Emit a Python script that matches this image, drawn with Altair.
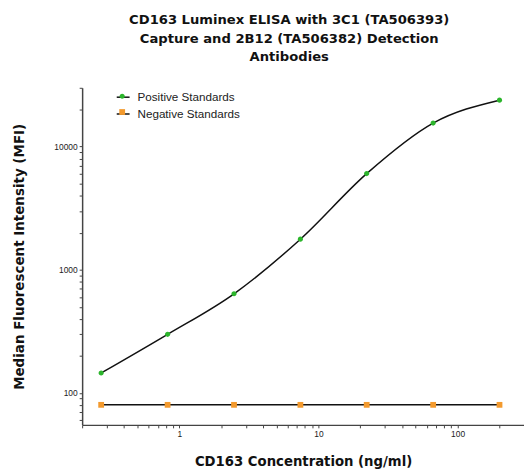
import altair as alt
import pandas as pd

# ---- data ----
conc = [0.274, 0.823, 2.47, 7.41, 22.2, 66.7, 200]
pos_mfi = [145, 299, 638, 1770, 6030, 15500, 23800]
neg_mfi = [80, 80, 80, 80, 80, 80, 80]
series_names = ["Positive Standards", "Negative Standards"]
series_colors = ["#2cb52c", "#f39a2e"]

x_ticks = [0.2, 0.3, 0.4, 0.5, 0.6, 0.7, 0.8, 0.9, 1, 2, 3, 4, 5, 6, 7, 8, 9,
           10, 20, 30, 40, 50, 60, 70, 80, 90, 100, 200, 300]
y_ticks = [60, 70, 80, 90, 100, 200, 300, 400, 500, 600, 700, 800, 900,
           1000, 2000, 3000, 4000, 5000, 6000, 7000, 8000, 9000,
           10000, 20000, 30000]

# line legend uses its own (label-identical) domain so that it stays a separate legend
line_names = [n + " " for n in series_names]

rows = []
for c, v in zip(conc, pos_mfi):
    rows.append({"conc": c, "mfi": v, "series": series_names[0], "series2": line_names[0]})
for c, v in zip(conc, neg_mfi):
    rows.append({"conc": c, "mfi": v, "series": series_names[1], "series2": line_names[1]})
df = pd.DataFrame(rows)

FONT = "Liberation Sans"
BOLD_FONT = "DejaVu Sans"
circle_path = "M-0.4,0A0.4,0.4,0,1,1,0.4,0A0.4,0.4,0,1,1,-0.4,0Z"
square_path = "M-0.45,-0.45H0.45V0.45H-0.45Z"

x_enc = alt.X("conc:Q",
              scale=alt.Scale(type="log", domain=[0.2, 300], nice=False),
              axis=alt.Axis(values=x_ticks, format="d",
                            labelExpr="(datum.value == 1 || datum.value == 10 || datum.value == 100) ? datum.label : ''",
                            labelOverlap=False, title="CD163 Concentration (ng/ml)",
                            titlePadding=17))
y_enc = alt.Y("mfi:Q",
              scale=alt.Scale(type="log", domain=[55, 30000], nice=False),
              axis=alt.Axis(values=y_ticks, format="d",
                            labelExpr="(datum.value == 100 || datum.value == 1000 || datum.value == 10000) ? datum.label : ''",
                            labelOverlap=False, title="Median Fluorescent Intensity (MFI)",
                            titlePadding=28))

LX, LY = 34, 2

lines = alt.Chart(df).mark_line(interpolate="monotone", strokeWidth=1.5).encode(
    x=x_enc, y=y_enc,
    stroke=alt.Stroke("series2:N",
                      scale=alt.Scale(domain=line_names, range=["#111111", "#111111"]),
                      legend=alt.Legend(orient="none", legendX=LX, legendY=LY, title=None,
                                        symbolType="stroke", symbolSize=169,
                                        symbolStrokeWidth=1.5, labelFontSize=11.8,
                                        labelFont=FONT, labelColor="#222222",
                                        labelOffset=7, rowPadding=2, padding=0, zindex=1)),
)

dot_legend = alt.Legend(orient="none", legendX=LX, legendY=LY, title=None,
                        symbolSize=169, symbolStrokeWidth=0, labelFontSize=11.8,
                        labelFont=FONT, labelExpr="''", labelOffset=7,
                        rowPadding=2, padding=0, zindex=2)

points = alt.Chart(df).mark_point(filled=True, size=169, opacity=1, strokeWidth=0).encode(
    x=x_enc, y=y_enc,
    color=alt.Color("series:N", scale=alt.Scale(domain=series_names, range=series_colors),
                    legend=dot_legend),
    shape=alt.Shape("series:N", scale=alt.Scale(domain=series_names, range=[circle_path, square_path]),
                    legend=dot_legend),
)

chart = alt.layer(lines, points).properties(
    width=447, height=341,
    autosize=alt.AutoSizeParams(type="none"),
    padding={"left": 75, "top": 78, "right": 0, "bottom": 50},
    title=alt.TitleParams(
        text=["CD163 Luminex ELISA with 3C1 (TA506393)",
              "Capture and 2B12 (TA506382) Detection",
              "Antibodies"],
        font=BOLD_FONT, fontSize=13.3, fontWeight="bold", color="#111111",
        lineHeight=18.5, anchor="middle", frame="group", dx=-14, offset=21),
).configure_view(stroke=None).configure_axis(
    grid=False, domainColor="#444444", domainWidth=1.5, tickColor="#444444",
    tickWidth=1, tickSize=3, labelFont=FONT, labelFontSize=8.5, labelColor="#222222",
    labelPadding=2, titleFont=BOLD_FONT, titleFontSize=13.6, titleFontWeight="bold",
    titleColor="#111111",
).configure_axisX(titleFontSize=13.4)

chart.save("out.html", embed_options={"renderer": "svg", "actions": False})
